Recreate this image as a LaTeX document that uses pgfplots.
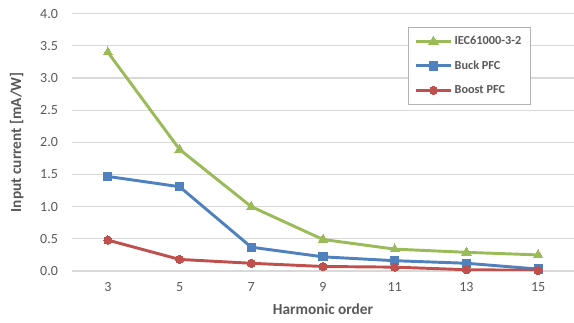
\documentclass[border=0pt]{standalone}
\usepackage{pgfplots}
\pgfplotsset{compat=1.18}
\usepackage{fontspec}
\setmainfont{Carlito}

\definecolor{iecgreen}{HTML}{9BBB59}
\definecolor{buckblue}{HTML}{4F81BD}
\definecolor{boostred}{HTML}{C0504D}
\definecolor{txtgray}{HTML}{595959}
\definecolor{gridgray}{HTML}{D9D9D9}

\begin{document}
\begin{tikzpicture}
\begin{axis}[
  at={(0pt,0pt)}, anchor=south west,
  scale only axis,
  width=376.5pt, height=193pt,
  xmin=2, xmax=16,
  ymin=0, ymax=4,
  xtick={3,5,7,9,11,13,15},
  ytick={0,0.5,...,4},
  yticklabel style={/pgf/number format/fixed, /pgf/number format/fixed zerofill,
    /pgf/number format/precision=1, xshift=-7pt},
  /pgf/number format/assume math mode=true,
  tick label style={font=\fontsize{10.5}{12}\selectfont, text=txtgray},
  xticklabel style={yshift=-5pt},
  major tick length=0pt,
  axis line style={draw=none},
  ymajorgrids,
  grid style={draw=gridgray, line width=0.8pt},
  xlabel={\textbf{Harmonic order}},
  ylabel={\textbf{Input current [mA/W]}},
  label style={font=\fontsize{11.5}{13}\selectfont, text=txtgray},
  xlabel style={at={(axis description cs:0.5,-0.148)}, anchor=center},
  ylabel style={at={(axis description cs:-0.11,0.5)}, anchor=center, rotate=0},
  legend style={
    at={(axis description cs:0.669,0.95)}, anchor=north west,
    draw=gray!60, line width=0.6pt,
    font=\bfseries\fontsize{9.2}{10}\selectfont, text=txtgray,
    inner xsep=5pt, inner ysep=5pt,
    row sep=6.5pt,
    cells={anchor=west},
  },
  legend image code/.code={
    \draw[mark repeat=2, mark phase=2]
      plot coordinates {(0cm,0cm) (0.45cm,0cm) (0.9cm,0cm)};
  },
  every axis plot/.append style={line width=2.2pt},
]
\draw[gridgray, line width=1.3pt] (axis cs:2,0) -- (axis cs:16,0);

\addplot[color=iecgreen, mark=triangle*, mark size=4pt,
  mark options={line width=0pt}]
  coordinates {(3,3.40) (5,1.89) (7,1.00) (9,0.49) (11,0.34) (13,0.29) (15,0.25)};
\addlegendentry{IEC61000-3-2}

\addplot[color=buckblue, mark=square*, mark size=3.1pt,
  mark options={line width=0pt}]
  coordinates {(3,1.47) (5,1.31) (7,0.37) (9,0.22) (11,0.16) (13,0.12) (15,0.03)};
\addlegendentry{Buck PFC}

\addplot[color=boostred, mark=*, mark size=3.1pt,
  mark options={line width=0pt}]
  coordinates {(3,0.48) (5,0.18) (7,0.12) (9,0.07) (11,0.06) (13,0.02) (15,0.01)};
\addlegendentry{Boost PFC}
\end{axis}
\pgfresetboundingbox
\path (-54pt,-39pt) rectangle (376.5pt,203.25pt);
\end{tikzpicture}
\end{document}
